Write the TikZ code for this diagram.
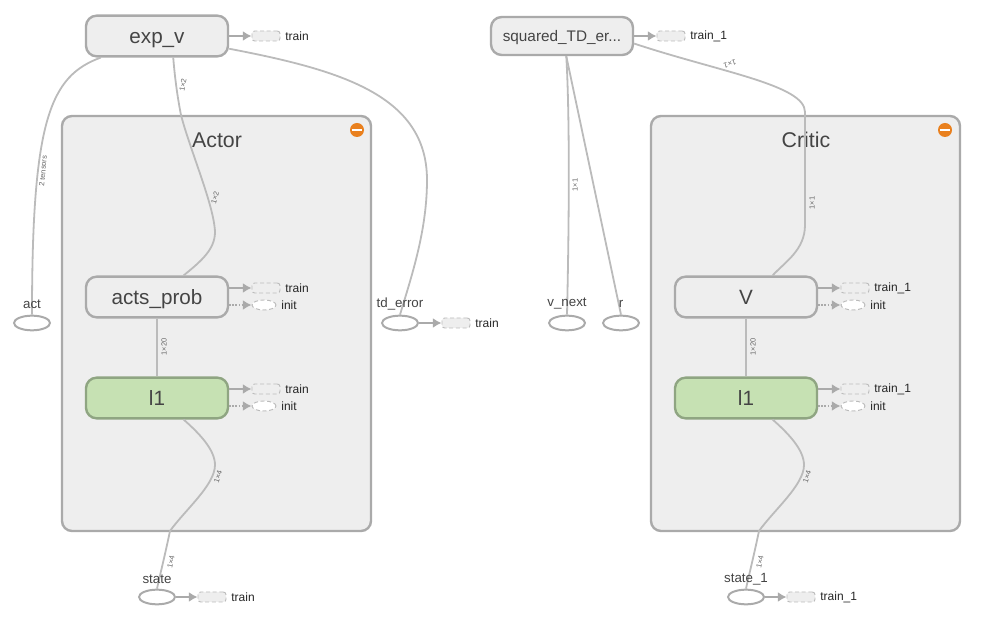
\documentclass[tikz,border=0pt]{standalone}
\usepackage{fontspec}
\setmainfont{Liberation Sans}
\usepackage{xcolor}
\usetikzlibrary{shapes.geometric,arrows.meta}
\definecolor{boxgray}{HTML}{AAAAAA}
\definecolor{boxfill}{HTML}{EEEEEE}
\definecolor{edgegray}{HTML}{BBBBBB}
\definecolor{textgray}{HTML}{444444}
\definecolor{layergreen}{HTML}{C6E1B3}
\definecolor{layerline}{HTML}{8FA582}
\definecolor{minusorange}{HTML}{E9801E}
\tikzstyle{cluster}=[rectangle,rounded corners=7.5pt,minimum width=231.75pt,minimum height=311.25pt,draw=boxgray,line width=1.8pt,fill=boxfill]
\tikzstyle{clustertitle}=[text=textgray,font=\fontsize{16}{18}\selectfont,inner sep=0pt]
\tikzstyle{opnode}=[rectangle,rounded corners=8pt,minimum width=106.5pt,minimum height=30.5pt,text centered,draw=boxgray,line width=1.8pt,fill=boxfill,text=textgray,font=\fontsize{15.5}{17}\selectfont,inner sep=0pt,text height=11pt,text depth=0pt]
\tikzstyle{greennode}=[opnode,draw=layerline,fill=layergreen]
\tikzstyle{inputnode}=[ellipse,minimum width=27pt,minimum height=11pt,draw=boxgray,line width=1.5pt,fill=white,inner sep=0pt]
\tikzstyle{inputlabel}=[text=textgray,font=\fontsize{10}{12}\selectfont,inner sep=0pt]
\tikzstyle{auxrect}=[rectangle,rounded corners=2pt,minimum width=21pt,minimum height=7.5pt,draw=edgegray,densely dashed,line width=0.7pt,fill=boxfill,inner sep=0pt,label={[auxlabel]right:#1}]
\tikzstyle{auxinit}=[ellipse,minimum width=18pt,minimum height=7.5pt,draw=edgegray,densely dashed,line width=0.7pt,fill=white,inner sep=0pt,label={[auxlabel]right:init}]
\tikzstyle{auxlabel}=[text=black!85,font=\fontsize{9}{11}\selectfont,inner sep=0pt,label distance=3.5pt,solid]
\tikzstyle{edgeline}=[edgegray,line width=1.35pt]
\tikzstyle{shapelabel}=[text=black!60,font=\fontsize{5.6}{6}\selectfont,inner sep=0pt]
\tikzstyle{auxarrow}=[boxgray,line width=1.35pt,-{Latex[length=6.5pt,width=7.5pt]}]
\tikzstyle{initarrow}=[auxarrow,densely dotted]
\tikzstyle{minusbadge}=[circle,minimum size=10.5pt,fill=minusorange,inner sep=0pt]
\begin{document}
\begin{tikzpicture}[x=0.75pt,y=-0.75pt,node distance=75.75pt]
            \useasboundingbox (0,0) rectangle (990,641);
            % clusters
            \node (actor)[cluster] at (216.5,323.5){};
            \node (critic)[cluster] at (805.5,323.5){};
            \node (actortitle)[clustertitle] at (217,140){Actor};
            \node (critictitle)[clustertitle] at (806,140){Critic};
            \node (minusa)[minusbadge] at (357,130){};
            \node (minusc)[minusbadge] at (945,130){};
            \draw [white,line width=1.6pt] ([xshift=-3.8pt]minusa.center) -- ([xshift=3.8pt]minusa.center);
            \draw [white,line width=1.6pt] ([xshift=-3.8pt]minusc.center) -- ([xshift=3.8pt]minusc.center);
            % main nodes
            \node (expv)[opnode] at (157,36){exp\_v};
            \node (actsprob)[opnode,below of=expv,yshift=-120pt]{acts\_prob};
            \node (ltwoa)[greennode,below of=actsprob]{l1};
            \node (squared)[opnode,minimum height=28.5pt,font=\fontsize{11.5}{14}\selectfont,text height=9pt] at (562,36){squared\_TD\_er...};
            \node (vnode)[opnode] at (746,297){V};
            \node (ltwoc)[greennode,below of=vnode]{l1};
            % inputs
            \node (act)[inputnode] at (32,323){};
            \node (tderror)[inputnode] at (400,323){};
            \node (vnext)[inputnode] at (567,323){};
            \node (rnode)[inputnode] at (621,323){};
            \node (state)[inputnode] at (157,597){};
            \node (stateone)[inputnode] at (746,597){};
            % edges
            \draw [edgeline] (expv.-159) .. controls (50,76) and (32,120) .. (act.north);
            \draw [edgeline] (expv.-53) .. controls (175,80) and (178,100) .. (181,115) .. controls (190,150) and (214,205) .. (215,232) .. controls (215,250) and (200,262) .. (actsprob.39);
            \draw [edgeline] (expv.-10) .. controls (340,70) and (427,95) .. (427,180) .. controls (427,230) and (412,275) .. (tderror.north);
            \draw [edgeline] (actsprob) -- (ltwoa);
            \draw [edgeline] (ltwoa.-39) .. controls (200,434) and (215,450) .. (215,465) .. controls (215,485) and (185,510) .. (170,531) .. controls (165,555) and (160,575) .. (state.north);
            \draw [edgeline] (squared.-78) .. controls (570,120) and (569,230) .. (vnext.north);
            \draw [edgeline] (squared.-78) -- (rnode.north);
            \draw [edgeline] (squared.-6) .. controls (720,72) and (805,85) .. (805,112) -- (805,225) .. controls (805,250) and (785,262) .. (vnode.39);
            \draw [edgeline] (vnode) -- (ltwoc);
            \draw [edgeline] (ltwoc.-39) .. controls (789,434) and (804,450) .. (804,465) .. controls (804,485) and (774,510) .. (759,531) .. controls (754,555) and (749,575) .. (stateone.north);
            % input labels
            \node (actlabel)[inputlabel] at (32,304){act};
            \node (tdlabel)[inputlabel] at (400,304){td\_error};
            \node (vnextlabel)[inputlabel] at (567,304){v\_next};
            \node (rlabel)[inputlabel] at (621,304){r};
            \node (statelabel)[inputlabel] at (157,579){state};
            \node (stateonelabel)[inputlabel] at (746,579){state\_1};
            % shape labels
            \node (s1)[shapelabel,rotate=85] at (43,171){2 tensors};
            \node (s2)[shapelabel,rotate=80] at (183,85){1×2};
            \node (s3)[shapelabel,rotate=75] at (215,198){1×2};
            \node (s4)[shapelabel,rotate=90] at (164,347){1×20};
            \node (s5)[shapelabel,rotate=73] at (218,477){1×4};
            \node (s6)[shapelabel,rotate=78] at (171,562){1×4};
            \node (s7)[shapelabel,rotate=195] at (730,64){1×1};
            \node (s8)[shapelabel,rotate=90] at (575,185){1×1};
            \node (s9)[shapelabel,rotate=90] at (812,203){1×1};
            \node (s10)[shapelabel,rotate=90] at (753,347){1×20};
            \node (s11)[shapelabel,rotate=73] at (807,477){1×4};
            \node (s12)[shapelabel,rotate=78] at (760,562){1×4};
            % auxiliary nodes
            \node (expvtrain)[auxrect=train] at (266,36){};
            \node (actstrain)[auxrect=train] at (266,288){};
            \node (actsinit)[auxinit] at (264,305){};
            \node (ltwoatrain)[auxrect=train] at (266,389){};
            \node (ltwoainit)[auxinit] at (264,406){};
            \node (tdtrain)[auxrect=train] at (456,323){};
            \node (statetrain)[auxrect=train] at (212,597){};
            \node (squaredtrain)[auxrect=train\_1] at (671,36){};
            \node (vtrain)[auxrect=train\_1] at (855,288){};
            \node (vinit)[auxinit] at (853,305){};
            \node (ltwoctrain)[auxrect=train\_1] at (855,389){};
            \node (ltwocinit)[auxinit] at (853,406){};
            \node (stateonetrain)[auxrect=train\_1] at (801,597){};
            \draw [auxarrow] (expv) -- (expvtrain);
            \draw [auxarrow] (actsprob.east |- actstrain) -- (actstrain);
            \draw [initarrow] (actsprob.east |- actsinit) -- (actsinit);
            \draw [auxarrow] (ltwoa.east |- ltwoatrain) -- (ltwoatrain);
            \draw [initarrow] (ltwoa.east |- ltwoainit) -- (ltwoainit);
            \draw [auxarrow] (tderror) -- (tdtrain);
            \draw [auxarrow] (state) -- (statetrain);
            \draw [auxarrow] (squared) -- (squaredtrain);
            \draw [auxarrow] (vnode.east |- vtrain) -- (vtrain);
            \draw [initarrow] (vnode.east |- vinit) -- (vinit);
            \draw [auxarrow] (ltwoc.east |- ltwoctrain) -- (ltwoctrain);
            \draw [initarrow] (ltwoc.east |- ltwocinit) -- (ltwocinit);
            \draw [auxarrow] (stateone) -- (stateonetrain);
        \end{tikzpicture}
\end{document}
